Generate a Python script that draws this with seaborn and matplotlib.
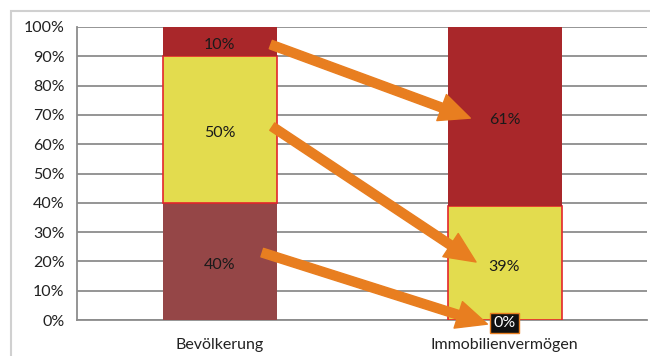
import numpy as np
import pandas as pd
import matplotlib
matplotlib.use("Agg")
import matplotlib.pyplot as plt
import seaborn as sns
from matplotlib.patches import Rectangle

# Daten
kategorien = ["Bevölkerung", "Immobilienvermögen"]
unten = [40, 0]
mitte = [50, 39]
oben = [10, 61]

farbe_unten = "#954647"
farbe_mitte = "#E3DC4E"
farbe_oben = "#A9272A"
orange = "#E87E20"

sns.set_theme(style="white")
plt.rcParams["font.family"] = ["Lato", "DejaVu Sans"]

df = pd.DataFrame({"kat": kategorien, "unten": unten, "mitte": mitte, "oben": oben})
df["b_mitte"] = df["unten"]
df["b_oben"] = df["unten"] + df["mitte"]

fig = plt.figure(figsize=(6.5, 3.56), dpi=100)
ax = fig.add_axes([77/650, 1-320/356, 570/650, 293/356])

breite = 0.4
sns.barplot(data=df, x="kat", y="unten", color=farbe_unten, width=breite,
            saturation=1, linewidth=0, ax=ax, zorder=3)
sns.barplot(data=df, x="kat", y="mitte", bottom=df["b_mitte"], color=farbe_mitte,
            width=breite, saturation=1, edgecolor="#E3262B", linewidth=1.2, ax=ax, zorder=3)
sns.barplot(data=df, x="kat", y="oben", bottom=df["b_oben"], color=farbe_oben,
            width=breite, saturation=1, linewidth=0, ax=ax, zorder=3)

fs = 11.5
ax.set_xlim(-0.5, 1.5)
ax.set_ylim(0, 100)
ax.set_yticks(np.arange(0, 101, 10))
ax.set_yticklabels([f"{v}%" for v in range(0, 101, 10)], fontsize=fs, color="#222222")
ax.set_xticks([0, 1])
ax.set_xticklabels(kategorien, fontsize=fs, color="#222222")
ax.set_xticks([-0.5, 0.5, 1.5], minor=True)
ax.tick_params(axis="x", which="major", length=0, pad=13)
ax.tick_params(axis="x", which="minor", length=5, width=1.2, color="#8c8c8c", direction="out")
ax.tick_params(axis="y", length=6, width=1.2, color="#8c8c8c", direction="out", pad=3)
ax.set_xlabel("")
ax.set_ylabel("")
ax.yaxis.grid(True, color="#8c8c8c", linewidth=1.3, zorder=0)
ax.set_axisbelow(True)
for s in ["top", "right"]:
    ax.spines[s].set_visible(False)
ax.spines["left"].set_color("#8c8c8c")
ax.spines["left"].set_linewidth(1.3)
ax.spines["bottom"].set_color("#8c8c8c")
ax.spines["bottom"].set_linewidth(1.3)

# Beschriftungen
for i in range(len(kategorien)):
    segmente = [(unten[i], 0), (mitte[i], unten[i]), (oben[i], unten[i] + mitte[i])]
    for wert, basis in segmente:
        y = basis + wert / 2
        if wert == 0:
            ax.text(i, y - 1, f"{wert}%", ha="center", va="center", fontsize=fs, color="white",
                    zorder=6, bbox=dict(boxstyle="square,pad=0.2", fc="#111111", ec=orange, lw=1))
        else:
            ax.text(i, y - 1.3, f"{wert}%", ha="center", va="center", fontsize=fs, color="#1a1a1a", zorder=5)

# Pfeile von links nach rechts
start_dx = [0.18, 0.185, 0.15]
start_dy = [-1, 1, 3]
ende_dx = [-0.12, -0.10, -0.06]
ende_dy = [-0.6, 0.3, -1.4]
y_links = [unten[0] / 2, unten[0] + mitte[0] / 2, unten[0] + mitte[0] + oben[0] / 2]
y_rechts = [unten[1] / 2, unten[1] + mitte[1] / 2, unten[1] + mitte[1] + oben[1] / 2]
for k in range(3):
    j = 2 - k  # oben, mitte, unten
    ax.annotate("", xy=(1 + ende_dx[k], y_rechts[j] + ende_dy[k]),
                xytext=(start_dx[k], y_links[j] + start_dy[k]),
                arrowprops=dict(arrowstyle="simple,head_length=1.1,head_width=1.0,tail_width=0.32",
                                mutation_scale=20, color=orange, shrinkA=0, shrinkB=0),
                zorder=7, annotation_clip=False)

# Rahmen
fig.patches.append(Rectangle((11/650, -0.02), 1.0, 1 - 11/356 + 0.02, transform=fig.transFigure,
                             fill=False, ec="#d0d0d0", lw=1.5, zorder=0))

fig.savefig("out.png", dpi=100)
